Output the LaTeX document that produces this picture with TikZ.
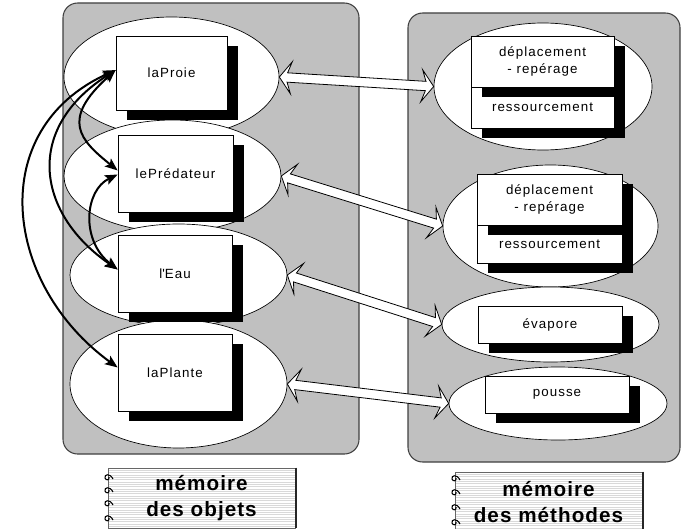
\documentclass[tikz,border=0pt]{standalone}
\usepackage{fontspec}
\setmainfont{Liberation Sans}[LetterSpace=8]
\newfontfamily\labfont{Liberation Sans}[LetterSpace=5]
\usetikzlibrary{shapes.geometric,shadows,calc,arrows.meta}
\definecolor{panelgray}{HTML}{C0C0C0}
\tikzset{
  panel/.style={fill=panelgray, draw=black!75, line width=0.8pt, rounded corners=11pt},
  ell/.style={ellipse, draw=black, line width=0.5pt, fill=white, inner sep=0pt},
  obox/.style={rectangle, draw=black, line width=0.5pt, fill=white, inner sep=0pt,
    align=center, font=\fontsize{10pt}{12.75pt}\selectfont,
    drop shadow={shadow xshift=8.25pt, shadow yshift=-7.5pt, fill=black, opacity=1}},
  link/.style={line width=1.5pt,
    {Stealth[length=9.5pt,width=7.5pt,inset=2pt]}-{Stealth[length=9.5pt,width=7.5pt,inset=2pt]}},
  fat/.style={draw=black, line width=0.6pt, fill=white, line join=miter},
  notebook/.style={rectangle, fill=white, draw=black!60, line width=0.5pt, inner sep=0pt,
    align=center, font=\labfont\bfseries\fontsize{15.5pt}{19pt}\selectfont,
    path picture={\foreach \k in {1,...,27}{\draw[gray!30, line width=0.35pt]
      ([yshift=-\k*1.75pt]path picture bounding box.north west) --
      ([yshift=-\k*1.75pt]path picture bounding box.north east);}}},
  nbring/.style={line width=0.8pt, black}
}
\newcommand\fatlink[2]{%
  \filldraw[fat] (#1)
    -- ($(#1)!9pt!(#2)!12pt!90:(#2)$)
    -- ($(#1)!6pt!(#2)!3.5pt!90:(#2)$)
    -- ($(#2)!6pt!(#1)!3.5pt!-90:(#1)$)
    -- ($(#2)!9pt!(#1)!12pt!-90:(#1)$)
    -- (#2)
    -- ($(#2)!9pt!(#1)!12pt!90:(#1)$)
    -- ($(#2)!6pt!(#1)!3.5pt!90:(#1)$)
    -- ($(#1)!6pt!(#2)!3.5pt!-90:(#2)$)
    -- ($(#1)!9pt!(#2)!12pt!-90:(#2)$)
    -- cycle;}
\newcommand\nbspiral[2]{%
  \draw[nbring] (#1+4,#2+2) .. controls (#1+1,#2-4) and (#1-5,#2-3) .. (#1-4,#2+1)
     .. controls (#1-3,#2+4) and (#1+1,#2+3) .. (#1,#2);}
\begin{document}
\begin{tikzpicture}[x=0.75pt,y=-0.75pt]
\useasboundingbox (0,0) rectangle (681,528);
% panels
\draw[panel] (63,3) rectangle (359,454);
\draw[panel] (408,13) rectangle (680,462);
% left ellipses
\node[ell, minimum width=161.25pt, minimum height=90pt] (eP) at (171.5,77) {};
\node[ell, minimum width=162.75pt, minimum height=84pt] (eR) at (172.5,176) {};
\node[ell, minimum width=162.75pt, minimum height=76.5pt] (eE) at (178.5,275) {};
\node[ell, minimum width=162.75pt, minimum height=96pt] (eL) at (178.5,384) {};
% right ellipses
\node[ell, minimum width=163.5pt, minimum height=95.25pt] (r1) at (543,86.5) {};
\node[ell, minimum width=161.25pt, minimum height=91.5pt] (r2) at (550.5,226) {};
\node[ell, minimum width=162.75pt, minimum height=56.25pt] (r3) at (550.5,324.5) {};
\node[ell, minimum width=163.5pt, minimum height=54.75pt] (r4) at (558,403.5) {};
% left boxes
\node[obox, minimum width=83.25pt, minimum height=55.5pt] (bP) at (171.5,73) {laProie};
\node[obox, minimum width=86.25pt, minimum height=57.75pt] (bR) at (175.5,173.5) {lePrédateur};
\node[obox, minimum width=85.5pt, minimum height=57.75pt] (bE) at (175,273.5) {l\textquotesingle Eau};
\node[obox, minimum width=85.5pt, minimum height=57.75pt] (bL) at (175,372.5) {laPlante};
% right boxes
\node[obox, minimum width=107.25pt, minimum height=30.75pt] (m1b) at (542.5,107.5) {ressourcement};
\node[obox, minimum width=107.25pt, minimum height=38.25pt] (m1a) at (542.5,61.5) {déplacement\\- repérage};
\node[obox, minimum width=108.75pt, minimum height=28.5pt] (m2b) at (549.5,244) {ressourcement};
\node[obox, minimum width=108.75pt, minimum height=38.25pt] (m2a) at (549.5,199.5) {déplacement\\- repérage};
\node[obox, minimum width=108pt, minimum height=27.75pt] (m3) at (550,324.5) {évapore};
\node[obox, minimum width=108pt, minimum height=27.75pt] (m4) at (557,394.5) {pousse};
% curved links between objects
\draw[link] (bP.177) .. controls (60,120) and (80,140) .. (bR.177);
\draw[link] (bP.177) .. controls (22,130) and (38,215) .. (bE.176);
\draw[link] (bP.177) .. controls (-16,130) and (4,285) .. (bL.175);
\draw[link] (bR.181) .. controls (85,190) and (80,240) .. (bE.176);
% fat double arrows
\fatlink{eP.east}{r1.west}
\fatlink{eR.east}{r2.west}
\fatlink{eE.east}{r3.west}
\fatlink{eL.east}{r4.west}
% notebook labels
\node[notebook, minimum width=140.25pt, minimum height=45pt] (labO) at (201.5,498) {mémoire\\des objets};
\node[notebook, minimum width=140.25pt, minimum height=45pt] (labM) at (548.5,502) {mémoire\\des méthodes};
\draw[line width=1.5pt, black!85] ([xshift=0.4pt]labO.north east) -- ([xshift=0.4pt]labO.south east);
\draw[line width=1.5pt, black!85] ([xshift=0.4pt]labM.north east) -- ([xshift=0.4pt]labM.south east);
\foreach \yy in {477,490,503,518} {\nbspiral{109}{\yy}}
\foreach \yy in {478,492,507,522} {\nbspiral{456}{\yy}}
\end{tikzpicture}
\end{document}
